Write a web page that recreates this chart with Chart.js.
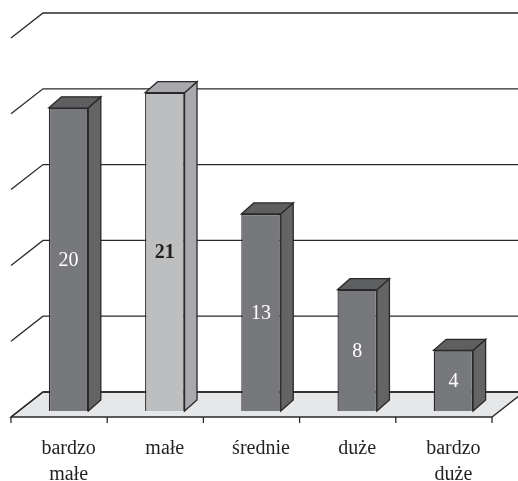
<!DOCTYPE html>
<html>
<head>
<meta charset="utf-8">
<title>Wykres</title>
<style>
  body { margin: 0; background: #fff; }
  canvas { display: block; }
</style>
<script src="https://cdn.jsdelivr.net/npm/chart.js@4"></script>
</head>
<body>
<canvas id="chart" width="518" height="481"></canvas>
<script>
const categories = [["bardzo", "małe"], "małe", "średnie", "duże", ["bardzo", "duże"]];
const values = [20, 21, 13, 8, 4];

// Colours
const lineColor = "#2a2829";
const floorColor = "#e6e7e8";
const darkBar = { front: "#77787b", side: "#636466", top: "#5e5f61", label: "#ffffff" };
const lightBar = { front: "#bcbec0", side: "#a7a9ac", top: "#a7a9ac", label: "#231f20" };
const barStyles = [darkBar, lightBar, darkBar, darkBar, darkBar];

// Depth of the fake 3D box
const floorDepth = { x: 32, back: 19, front: 6 };
const barDepth = { x: 12.5, y: 11 };
const bandShift = 9.5;

function polygon(ctx, points, fill) {
  ctx.beginPath();
  points.forEach((p, i) => (i ? ctx.lineTo(p[0], p[1]) : ctx.moveTo(p[0], p[1])));
  ctx.closePath();
  ctx.fillStyle = fill;
  ctx.fill();
  ctx.stroke();
}

// Floor, walls and grid lines, behind the bars
const wallsPlugin = {
  id: "walls",
  beforeDatasetsDraw(chart) {
    const { ctx, scales: { x, y } } = chart;
    const left = x.left - bandShift;
    const right = x.right - bandShift;
    const base = y.getPixelForValue(0);
    ctx.save();
    ctx.strokeStyle = lineColor;
    ctx.lineWidth = 1.3;
    polygon(ctx, [
      [left, base + floorDepth.front],
      [left + floorDepth.x, base - floorDepth.back],
      [right + floorDepth.x, base - floorDepth.back],
      [right, base + floorDepth.front]
    ], floorColor);
    y.ticks.forEach(t => {
      const py = y.getPixelForValue(t.value);
      ctx.beginPath();
      ctx.moveTo(left, py + floorDepth.front);
      ctx.lineTo(left + floorDepth.x, py - floorDepth.back);
      ctx.lineTo(right + floorDepth.x, py - floorDepth.back);
      ctx.stroke();
    });
    // axis ticks under the floor
    const band = (x.right - x.left) / categories.length;
    for (let i = 0; i <= categories.length; i++) {
      const px = left + i * band;
      ctx.beginPath();
      ctx.moveTo(px, base + floorDepth.front);
      ctx.lineTo(px, base + floorDepth.front + 6);
      ctx.stroke();
    }
    ctx.restore();
  }
};

// Side and top faces of the bars, and the value in the middle of each
const boxPlugin = {
  id: "box",
  afterDatasetsDraw(chart) {
    const { ctx } = chart;
    ctx.save();
    ctx.strokeStyle = lineColor;
    ctx.lineWidth = 1.3;
    chart.getDatasetMeta(0).data.forEach((bar, i) => {
      const style = barStyles[i];
      const l = bar.x - bar.width / 2;
      const r = bar.x + bar.width / 2;
      polygon(ctx, [
        [r, bar.y],
        [r + barDepth.x, bar.y - barDepth.y],
        [r + barDepth.x, bar.base - barDepth.y],
        [r, bar.base]
      ], style.side);
      polygon(ctx, [
        [l, bar.y],
        [l + barDepth.x, bar.y - barDepth.y],
        [r + barDepth.x, bar.y - barDepth.y],
        [r, bar.y]
      ], style.top);
      ctx.fillStyle = style.label;
      ctx.font = (style === lightBar ? "bold " : "") + "20px 'Liberation Serif'";
      ctx.textAlign = "center";
      ctx.textBaseline = "middle";
      ctx.fillText(values[i], bar.x, (bar.y + bar.base) / 2 + 1.5);
    });
    ctx.restore();
  }
};

new Chart(document.querySelector("#chart"), {
  type: "bar",
  data: {
    labels: categories,
    datasets: [{
      data: values,
      backgroundColor: barStyles.map(s => s.front),
      borderColor: lineColor,
      borderWidth: 1.3,
      categoryPercentage: 1,
      barPercentage: 0.41
    }]
  },
  options: {
    responsive: false,
    animation: false,
    layout: { padding: { left: 20.5, right: 16.5, top: 32, bottom: 0 } },
    plugins: { legend: { display: false }, tooltip: { enabled: false } },
    scales: {
      x: {
        grid: { display: false },
        border: { display: false },
        afterFit: scale => { scale.height = 70; },
        ticks: {
          autoSkip: false,
          maxRotation: 0,
          padding: 17,
          color: "#231f20",
          font: { family: "'Liberation Serif'", size: 20, lineHeight: 1.3 }
        }
      },
      y: {
        display: false,
        min: 0,
        max: 25,
        ticks: { stepSize: 5 }
      }
    }
  },
  plugins: [wallsPlugin, boxPlugin]
});
</script>
</body>
</html>
